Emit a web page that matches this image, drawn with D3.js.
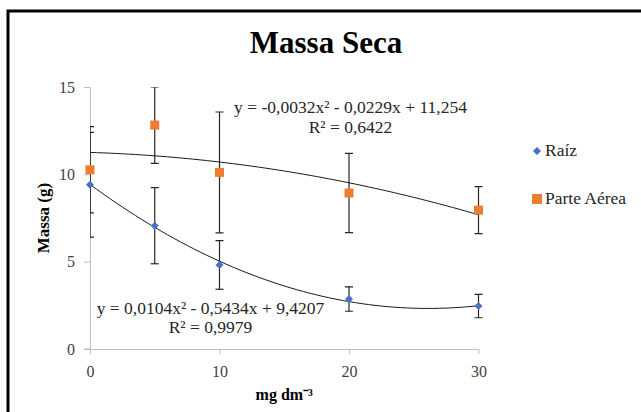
<!DOCTYPE html>
<html>
<head>
<meta charset="utf-8">
<script src="https://cdn.jsdelivr.net/npm/d3@7"></script>
<style>
  body { margin: 0; background: #fff; }
  svg { display: block; }
  svg text { font-family: "Liberation Serif", "Times New Roman", serif !important; }
  .ax path, .ax line { stroke: #bfbfbf; }
  .ax text { font-size: 16px; fill: #404040; }
</style>
</head>
<body>
<svg id="chart"></svg>
<script>
// DATA
var doses = [0, 5, 10, 20, 30];
var raiz = [9.4, 7.06, 4.81, 2.86, 2.46];
var raizErr = [3.0, 2.18, 1.39, 0.7, 0.67];
var parteAerea = [10.26, 12.82, 10.11, 8.93, 7.95];
var parteAereaErr = [2.47, 2.19, 3.46, 2.27, 1.35];
var raizCoef = [0.0104, -0.5434, 9.4207];
var parteAereaCoef = [-0.0032, -0.0229, 11.254];
var xTicks = [0, 10, 20, 30];
var yTicks = [0, 5, 10, 15];
var seriesNames = ["Raíz", "Parte Aérea"];
var equations = ["y = 0,0104x² - 0,5434x + 9,4207", "y = -0,0032x² - 0,0229x + 11,254"];
var rSquared = ["R² = 0,9979", "R² = 0,6422"];

// SIZING
var W = 641, H = 412;
var margin = {top: 87, left: 90};
var plotW = 388.5, plotH = 262;
var serif = "'Liberation Serif', 'Times New Roman', serif";

var svg = d3.select("#chart").attr("width", W).attr("height", H);

// outer frame (right/bottom sit outside the window)
svg.append("rect")
  .attr("x", 8).attr("y", 11)
  .attr("width", 700).attr("height", 500)
  .style("fill", "none").style("stroke", "#000").style("stroke-width", 3);

svg.append("text")
  .attr("x", 326).attr("y", 53)
  .attr("text-anchor", "middle")
  .style("font-family", serif)
  .style("font-size", "31px").style("font-weight", "bold")
  .text("Massa Seca");

var g = svg.append("g").attr("transform", "translate(" + margin.left + "," + margin.top + ")");

var x = d3.scaleLinear().domain([0, 30]).range([0, plotW]);
var y = d3.scaleLinear().domain([0, 15]).range([plotH, 0]);

g.append("g").attr("class", "ax")
  .call(d3.axisLeft(y).tickValues(yTicks).tickSize(6).tickPadding(9).tickSizeOuter(0))
  .attr("font-family", serif).attr("font-size", 16);

g.append("g").attr("class", "ax")
  .attr("transform", "translate(0," + plotH + ")")
  .call(d3.axisBottom(x).tickValues(xTicks).tickSize(5).tickPadding(12).tickSizeOuter(0))
  .attr("font-family", serif).attr("font-size", 16);

// extend the x axis line left to meet the y tick
g.append("line")
  .attr("x1", -6).attr("x2", 0).attr("y1", plotH).attr("y2", plotH)
  .style("stroke", "#bfbfbf");

svg.append("text")
  .attr("transform", "translate(49," + (margin.top + plotH / 2) + ") rotate(-90)")
  .attr("text-anchor", "middle")
  .style("font-family", serif)
  .style("font-size", "17px").style("font-weight", "bold")
  .text("Massa (g)");

svg.append("text")
  .attr("x", margin.left + plotW / 2).attr("y", 400)
  .attr("text-anchor", "middle")
  .style("font-family", serif)
  .style("font-size", "16px").style("font-weight", "bold")
  .text("mg dm⁻³");

svg.append("defs").append("clipPath").attr("id", "plotClip")
  .append("rect").attr("x", 0).attr("y", 0).attr("width", plotW + 20).attr("height", plotH);

var plot = g.append("g").attr("clip-path", "url(#plotClip)");

// TREND LINES
function poly(c) { return function(v) { return c[0] * v * v + c[1] * v + c[2]; }; }
var line = d3.line().x(function(d) { return x(d[0]); }).y(function(d) { return y(d[1]); });
[raizCoef, parteAereaCoef].forEach(function(c) {
  var f = poly(c);
  var pts = d3.range(0, 30.01, 0.5).map(function(v) { return [v, f(v)]; });
  plot.append("path").attr("d", line(pts))
    .style("fill", "none").style("stroke", "#1a1a1a").style("stroke-width", 1);
});

// ERROR BARS
function errorBars(vals, errs) {
  var eb = plot.append("g").style("stroke", "#262626").style("stroke-width", 1.2);
  doses.forEach(function(d, i) {
    var cx = x(d), y1 = y(vals[i] + errs[i]), y2 = y(vals[i] - errs[i]);
    eb.append("line").attr("x1", cx).attr("x2", cx).attr("y1", y1).attr("y2", y2);
    eb.append("line").attr("x1", cx - 4).attr("x2", cx + 4).attr("y1", y1).attr("y2", y1);
    eb.append("line").attr("x1", cx - 4).attr("x2", cx + 4).attr("y1", y2).attr("y2", y2);
  });
}
errorBars(parteAerea, parteAereaErr);
errorBars(raiz, raizErr);

// MARKERS
var square = d3.symbol().type(d3.symbolSquare).size(81);
var diamond = d3.symbol().type(d3.symbolSquare).size(32);

g.selectAll(".pa").data(doses).enter().append("path")
  .attr("d", square)
  .attr("transform", function(d, i) { return "translate(" + x(d) + "," + y(parteAerea[i]) + ")"; })
  .style("fill", "#ed7d31");

g.selectAll(".rz").data(doses).enter().append("path")
  .attr("d", diamond)
  .attr("transform", function(d, i) { return "translate(" + x(d) + "," + y(raiz[i]) + ") rotate(45)"; })
  .style("fill", "#4472c4");

// EQUATIONS
var eqPos = [[210.5, 314, 333], [350.5, 113, 133]];
eqPos.forEach(function(p, i) {
  svg.append("text").attr("x", p[0]).attr("y", p[1]).attr("text-anchor", "middle")
    .style("font-family", serif)
    .style("font-size", "17.5px").style("fill", "#262626").text(equations[i]);
  svg.append("text").attr("x", p[0]).attr("y", p[2]).attr("text-anchor", "middle")
    .style("font-family", serif)
    .style("font-size", "17.5px").style("fill", "#262626").text(rSquared[i]);
});

// LEGEND
var legend = svg.append("g").attr("transform", "translate(537,0)");
legend.append("path").attr("d", d3.symbol().type(d3.symbolSquare).size(32))
  .attr("transform", "translate(0,151) rotate(45)").style("fill", "#4472c4");
legend.append("rect").attr("x", -5).attr("y", 194).attr("width", 10).attr("height", 10)
  .style("fill", "#ed7d31");
legend.selectAll(".lt").data(seriesNames).enter().append("text")
  .attr("x", 8).attr("y", function(d, i) { return 156 + i * 48; })
  .style("font-family", serif)
  .style("font-size", "17.5px").style("fill", "#262626")
  .text(function(d) { return d; });
</script>
</body>
</html>
